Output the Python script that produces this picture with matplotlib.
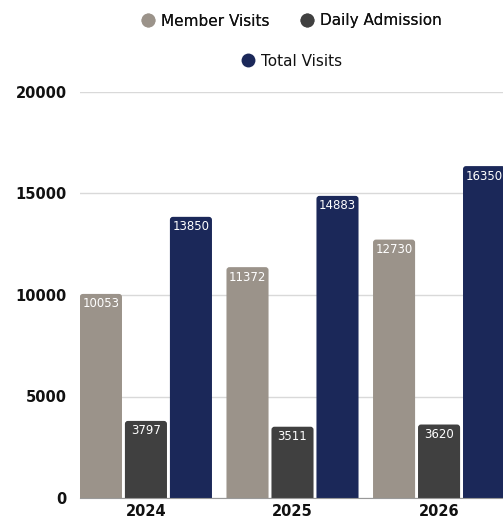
import matplotlib
matplotlib.use("Agg")
import matplotlib.pyplot as plt
from matplotlib.patches import FancyBboxPatch
from matplotlib.lines import Line2D
import numpy as np

years = ["2024", "2025", "2026"]
member_visits = [10053, 11372, 12730]
daily_admission = [3797, 3511, 3620]
total_visits = [13850, 14883, 16350]

series = ["Member Visits", "Daily Admission", "Total Visits"]
colors = ["#9b938a", "#404040", "#1b2859"]

plt.rcParams["font.family"] = ["DejaVu Sans"]

W, H = 503, 519
fig = plt.figure(figsize=(W / 100, H / 100), dpi=100)
ax = fig.add_axes([80 / W, (H - 498) / H, 425 / W, (498 - 92) / H])

x = np.arange(len(years))
step = 0.307
width = 0.287
px_x = 425 / 2.9
px_y = 20000 / (498 - 92)
r = 3.0

for k, vals in enumerate([member_visits, daily_admission, total_visits]):
    for i, v in enumerate(vals):
        cx = x[i] + (k - 1) * step
        patch = FancyBboxPatch(
            (cx - width / 2, -400), width, v + 400,
            boxstyle="round,pad=0,rounding_size=%f" % (r / px_x),
            mutation_aspect=px_y / (1 / px_x),
            facecolor=colors[k], edgecolor="none", zorder=3)
        ax.add_patch(patch)
        ax.text(cx, v - 3.5 * px_y, str(v), ha="center", va="top",
                color="white", fontsize=8.5, zorder=4)

ax.set_xlim(-0.45, 2.45)
ax.set_ylim(0, 20000)
ax.set_yticks([0, 5000, 10000, 15000, 20000])
ax.set_xticks(x)
ax.set_xticklabels(years)
ax.grid(axis="y", color="#d9d9d9", linewidth=1, zorder=0)
ax.tick_params(length=0, labelsize=10.5, colors="#111111")
ax.tick_params(axis="y", pad=9.5)
ax.tick_params(axis="x", pad=4)
for lab in ax.get_xticklabels() + ax.get_yticklabels():
    lab.set_fontweight("bold")
for s in ["top", "right", "left"]:
    ax.spines[s].set_visible(False)
ax.spines["bottom"].set_color("#999999")
ax.spines["bottom"].set_zorder(5)

handles = [Line2D([], [], marker="o", linestyle="none", markersize=10,
                  markerfacecolor=c, markeredgecolor="none") for c in colors]
cx_leg = 291 / W
leg1 = fig.legend(handles[:2], series[:2], loc="center", ncol=2,
                  bbox_to_anchor=(cx_leg, 1 - 21 / H), frameon=False,
                  prop={"size": 11}, labelcolor="#111111",
                  handletextpad=0.35, columnspacing=2.0, handlelength=1.0)
fig.add_artist(leg1)
fig.legend(handles[2:], series[2:], loc="center",
           bbox_to_anchor=(cx_leg, 1 - 61 / H), frameon=False,
           prop={"size": 11}, labelcolor="#111111",
           handletextpad=0.35, handlelength=1.0)

fig.savefig("out.png", dpi=100)
